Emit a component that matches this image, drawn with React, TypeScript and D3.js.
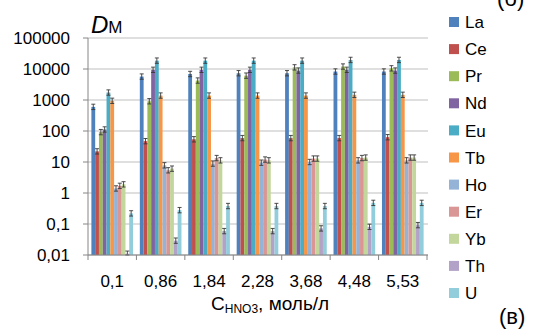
import React from "react";
import { scaleBand, scaleLog } from "d3";

const categories = ["0,1", "0,86", "1,84", "2,28", "3,68", "4,48", "5,53"];
const seriesNames = ["La", "Ce", "Pr", "Nd", "Eu", "Tb", "Ho", "Er", "Yb", "Th", "U"];
const seriesColors = [
  "#4F81BD", "#C0504D", "#9BBB59", "#8064A2", "#4BACC6", "#F79646",
  "#95B3D7", "#D99694", "#C3D69B", "#B3A2C7", "#92CDDC",
];
const La = [600, 5700, 6900, 7300, 7300, 8300, 8300];
const Ce = [22, 47, 54, 59, 59, 59, 63];
const Pr = [92, 910, 4240, 6100, 11300, 12000, 10500];
const Nd = [112, 9400, 9400, 9400, 8900, 9400, 8900];
const Eu = [1740, 18600, 18600, 18600, 18600, 19600, 19600];
const Tb = [940, 1390, 1390, 1390, 1390, 1470, 1470];
const Ho = [1.4, 7.8, 8.9, 9.5, 10, 11.3, 11.3];
const Er = [1.7, 5.4, 13.4, 12, 12.9, 13.4, 13.9];
const Yb = [1.9, 6.1, 11.3, 11.3, 12.9, 13.9, 13.9];
const Th = [0.011, 0.029, 0.059, 0.059, 0.072, 0.081, 0.092];
const U = [0.22, 0.28, 0.38, 0.38, 0.38, 0.48, 0.48];
const seriesValues = [La, Ce, Pr, Nd, Eu, Tb, Ho, Er, Yb, Th, U];
const relError = 0.22;

const yTicks = [100000, 10000, 1000, 100, 10, 1, 0.1, 0.01];
const yTickLabels = ["100000", "10000", "1000", "100", "10", "1", "0,1", "0,01"];

const font = "'Liberation Sans', Arial, sans-serif";

export default function App() {
  const width = 536;
  const height = 329;
  const left = 88;
  const right = 427;
  const top = 38;
  const bottom = 255;

  const x = scaleBand<string>()
    .domain(categories)
    .range([left, right])
    .paddingInner(0.14)
    .paddingOuter(0.07);
  const xs = scaleBand<string>()
    .domain(seriesNames)
    .range([0, x.bandwidth()]);
  const y = scaleLog().domain([0.01, 100000]).range([bottom, top]);

  const step = (right - left) / categories.length;
  const gridColor = "#bfbfbf";
  const axisColor = "#868686";

  return (
    <svg
      width={width}
      height={height}
      style={{ position: "absolute", left: 0, top: 0, background: "#fff" }}
      fontFamily={font}
    >
      {/* grid */}
      {yTicks.map((t) => (
        <line
          key={"g" + t}
          x1={left}
          x2={right + 1}
          y1={y(t)}
          y2={y(t)}
          stroke={gridColor}
          strokeWidth={1}
        />
      ))}

      {/* bars */}
      {seriesValues.map((vals, si) => (
        <g key={seriesNames[si]} fill={seriesColors[si]}>
          {vals.map((v, ci) => {
            const bx = x(categories[ci])! + xs(seriesNames[si])!;
            return (
              <rect
                key={ci}
                x={bx}
                y={y(v)}
                width={xs.bandwidth()}
                height={bottom - y(v)}
              />
            );
          })}
        </g>
      ))}

      {/* error bars */}
      {seriesValues.map((vals, si) => (
        <g key={"e" + si} stroke="#3a3a3a" strokeWidth={0.9}>
          {vals.map((v, ci) => {
            const cx = x(categories[ci])! + xs(seriesNames[si])! + xs.bandwidth() / 2;
            const y1 = y(v * (1 + relError));
            const y2 = Math.min(bottom, y(Math.max(0.01, v / (1 + relError))));
            return (
              <g key={ci}>
                <line x1={cx} x2={cx} y1={y1} y2={y2} />
                <line x1={cx - 2} x2={cx + 2} y1={y1} y2={y1} />
                <line x1={cx - 2} x2={cx + 2} y1={y2} y2={y2} />
              </g>
            );
          })}
        </g>
      ))}

      {/* axes */}
      <line x1={left} x2={left} y1={top} y2={bottom} stroke={axisColor} />
      <line x1={left} x2={right + 1} y1={bottom} y2={bottom} stroke={axisColor} />
      {yTicks.map((t, i) => (
        <g key={"yt" + t}>
          <line x1={left - 5} x2={left} y1={y(t)} y2={y(t)} stroke={axisColor} />
          <text
            x={left - 18}
            y={y(t)}
            dy="0.36em"
            textAnchor="end"
            fontSize={17}
            fill="#000"
          >
            {yTickLabels[i]}
          </text>
        </g>
      ))}
      {categories.map((c, i) => (
        <line
          key={"xt" + c}
          x1={left + step * i}
          x2={left + step * i}
          y1={bottom}
          y2={bottom + 5}
          stroke={axisColor}
        />
      ))}
      <line x1={right} x2={right} y1={bottom} y2={bottom + 5} stroke={axisColor} />
      {categories.map((c) => (
        <text
          key={"xl" + c}
          x={x(c)! + x.bandwidth() / 2}
          y={287}
          textAnchor="middle"
          fontSize={17}
          fill="#000"
        >
          {c}
        </text>
      ))}

      {/* titles */}
      <text x={91} y={33} fontSize={24} fontStyle="italic" fill="#000">
        D<tspan fontStyle="normal" fontSize={17}>M</tspan>
      </text>
      <text x={211} y={310} fontSize={19} fill="#000">
        C<tspan fontSize={12} dy={3}>HNO3</tspan>
        <tspan dy={-3}>, моль/л</tspan>
      </text>
      <text x={499} y={324} fontSize={22} fill="#000">
        (в)
      </text>
      <text x={497} y={6} fontSize={22} fill="#000">
        (б)
      </text>

      {/* legend */}
      {seriesNames.map((n, i) => {
        const cy = 22 + i * 27.1;
        return (
          <g key={"l" + n}>
            <rect x={449} y={cy - 5} width={10} height={10} fill={seriesColors[i]} />
            <text x={465} y={cy} dy="0.36em" fontSize={17} fill="#000">
              {n}
            </text>
          </g>
        );
      })}
    </svg>
  );
}
